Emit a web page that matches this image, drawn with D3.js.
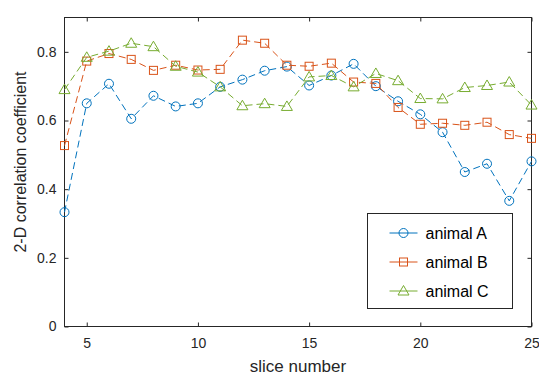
<!DOCTYPE html>
<html>
<head>
<meta charset="utf-8">
<script src="https://cdn.jsdelivr.net/npm/d3@7"></script>
<style>
  body { margin: 0; background: #fff; }
  svg text { font-family: "Liberation Sans", Arial, sans-serif; }
</style>
</head>
<body>
<div id="chart"></div>
<script>
// slice numbers
var slices = d3.range(4, 26);

var animalA = [0.333, 0.650, 0.707, 0.605, 0.672, 0.641, 0.650, 0.698, 0.719, 0.745, 0.757,
               0.702, 0.731, 0.765, 0.700, 0.656, 0.618, 0.566, 0.450, 0.474, 0.366, 0.481];
var animalB = [0.527, 0.773, 0.795, 0.778, 0.746, 0.761, 0.747, 0.749, 0.834, 0.825, 0.761,
               0.758, 0.767, 0.712, 0.708, 0.638, 0.589, 0.592, 0.586, 0.595, 0.559, 0.548];
var animalC = [0.690, 0.784, 0.802, 0.825, 0.815, 0.758, 0.741, 0.698, 0.643, 0.649, 0.641,
               0.727, 0.731, 0.698, 0.737, 0.716, 0.664, 0.663, 0.696, 0.702, 0.712, 0.645];

var seriesNames = ["animal A", "animal B", "animal C"];
var xTicks = [5, 10, 15, 20, 25];
var yTicks = [0, 0.2, 0.4, 0.6, 0.8];

var series = [
  { name: seriesNames[0], values: animalA, color: "#0072BD", marker: "circle" },
  { name: seriesNames[1], values: animalB, color: "#D95319", marker: "square" },
  { name: seriesNames[2], values: animalC, color: "#77AC30", marker: "triangle" }
];

var W = 539, H = 377;
var margin = {top: 17.5, right: 7.5, bottom: 50.5, left: 64.5};
var width = W - margin.left - margin.right,
    height = H - margin.top - margin.bottom;

var svg = d3.select("#chart").append("svg")
  .attr("width", W).attr("height", H);

var g = svg.append("g")
  .attr("transform", "translate(" + margin.left + "," + margin.top + ")");

var x = d3.scaleLinear().domain([4, 25]).range([0, width]);
var y = d3.scaleLinear().domain([0, 0.9]).range([height, 0]);

var axisColor = "#262626";

// box and ticks
function styleAxis(sel) {
  sel.select(".domain").remove();
  sel.selectAll(".tick line").attr("stroke", axisColor);
  sel.selectAll(".tick text").attr("fill", axisColor).attr("font-size", 14);
}

g.append("g")
  .attr("transform", "translate(0," + height + ")")
  .call(d3.axisBottom(x).tickValues(xTicks).tickSize(-4).tickPadding(12).tickFormat(d3.format("d")))
  .call(styleAxis);

g.append("g")
  .call(d3.axisTop(x).tickValues(xTicks).tickSize(-4).tickFormat(""))
  .call(styleAxis);

g.append("g")
  .call(d3.axisLeft(y).tickValues(yTicks).tickSize(-4).tickPadding(8).tickFormat(function(d) { return d === 0 ? "0" : d3.format(".1f")(d); }))
  .call(styleAxis);

g.append("g")
  .attr("transform", "translate(" + width + ",0)")
  .call(d3.axisRight(y).tickValues(yTicks).tickSize(-4).tickFormat(""))
  .call(styleAxis);

g.append("rect")
  .attr("width", width).attr("height", height)
  .attr("fill", "none").attr("stroke", axisColor).attr("stroke-width", 1);

// markers
function drawMarker(sel, type, color) {
  if (type === "circle") {
    sel.append("circle").attr("r", 4.5);
  } else if (type === "square") {
    sel.append("rect").attr("x", -4).attr("y", -4).attr("width", 8).attr("height", 8);
  } else {
    sel.append("path").attr("d", "M0,-5.5L5.5,4L-5.5,4Z");
  }
  sel.selectAll("*").attr("fill", "none").attr("stroke", color).attr("stroke-width", 1);
}

var line = d3.line()
  .x(function(d, i) { return x(slices[i]); })
  .y(function(d) { return y(d); });

series.forEach(function(s) {
  g.append("path")
    .datum(s.values)
    .attr("d", line)
    .attr("fill", "none")
    .attr("stroke", s.color)
    .attr("stroke-width", 1)
    .attr("stroke-dasharray", "7,4");

  g.append("g").selectAll("g")
    .data(s.values)
    .enter().append("g")
    .attr("transform", function(d, i) { return "translate(" + x(slices[i]) + "," + y(d) + ")"; })
    .each(function() { drawMarker(d3.select(this), s.marker, s.color); });
});

// axis labels
svg.append("text")
  .attr("x", margin.left + width / 2)
  .attr("y", 372)
  .attr("text-anchor", "middle")
  .attr("font-size", 17)
  .attr("fill", axisColor)
  .text("slice number");

svg.append("text")
  .attr("transform", "translate(26,162) rotate(-90)")
  .attr("text-anchor", "middle")
  .attr("font-size", 16)
  .attr("fill", axisColor)
  .text("2-D correlation coefficient");

// legend
var legend = svg.append("g").attr("transform", "translate(367.5,213.5)");
legend.append("rect")
  .attr("width", 145).attr("height", 95)
  .attr("fill", "#fff").attr("stroke", axisColor).attr("stroke-width", 1);

var items = legend.selectAll("g.item")
  .data(series)
  .enter().append("g")
  .attr("class", "item")
  .attr("transform", function(d, i) { return "translate(0," + (19.5 + i * 29) + ")"; });

items.append("line")
  .attr("x1", 22).attr("x2", 50)
  .attr("stroke", function(d) { return d.color; })
  .attr("stroke-width", 1);

items.append("g")
  .attr("transform", "translate(36,0)")
  .each(function(d) { drawMarker(d3.select(this), d.marker, d.color); });

items.append("text")
  .attr("x", 58)
  .attr("dy", "0.35em")
  .attr("font-size", 16)
  .attr("fill", "#000")
  .text(function(d) { return d.name; });
</script>
</body>
</html>
